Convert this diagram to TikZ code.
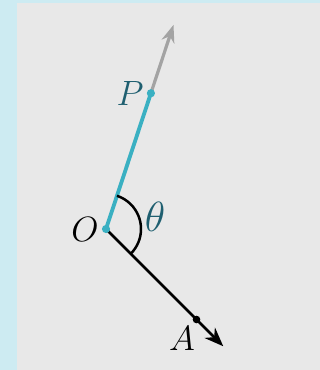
\documentclass[tikz,border=0pt]{standalone}
\usepackage{amsmath,amssymb,amsfonts}
\usepackage{tikz}
\usetikzlibrary{arrows.meta, angles, quotes}
\definecolor{bgblue}{HTML}{CDEBF2}
\definecolor{bggray}{HTML}{E8E8E8}
\definecolor{rayteal}{HTML}{3AB0C2}
\definecolor{labteal}{HTML}{1F5F70}
\definecolor{raygray}{HTML}{A3A3A3}

\begin{document}
\begin{tikzpicture}[scale=1]
\fill[bgblue] (-1.272,-1.692) rectangle (2.568,2.748);
\fill[bggray] (-1.068,-1.692) rectangle (2.568,2.712);
\useasboundingbox (-1.272,-1.692) rectangle (2.568,2.748);
\coordinate (O) at (0,0);
\coordinate (P) at (71.7:1.716);
\coordinate (Q) at (71.7:2.58);
\coordinate (A) at (-45:1.536);
\coordinate (B) at (-45:1.99);
\draw[raygray, line width=1.1pt, -{Stealth[length=6pt,width=4.5pt]}] (P) -- (Q);
\draw[line width=0.95pt, -{Stealth[length=6.5pt,width=5pt]}] (O) -- (B);
\draw[rayteal, line width=1.3pt] (O) -- (P);
\draw[line width=0.85pt] (-45:0.42) arc (-45:71.7:0.42);
\fill (A) circle (1.3pt);
\fill[rayteal] (O) circle (1.4pt);
\fill[rayteal] (P) circle (1.4pt);
\node[left, font=\large, xshift=1pt] (lO) at (O) {$O$};
\node[left, font=\large, text=labteal, xshift=1pt] (lP) at (P) {$P$};
\node[below left, font=\large, xshift=3pt, yshift=1pt] (lA) at (A) {$A$};
\node[font=\Large, text=labteal] (lT) at (0.59,0.15) {$\theta$};
\end{tikzpicture}
\end{document}
